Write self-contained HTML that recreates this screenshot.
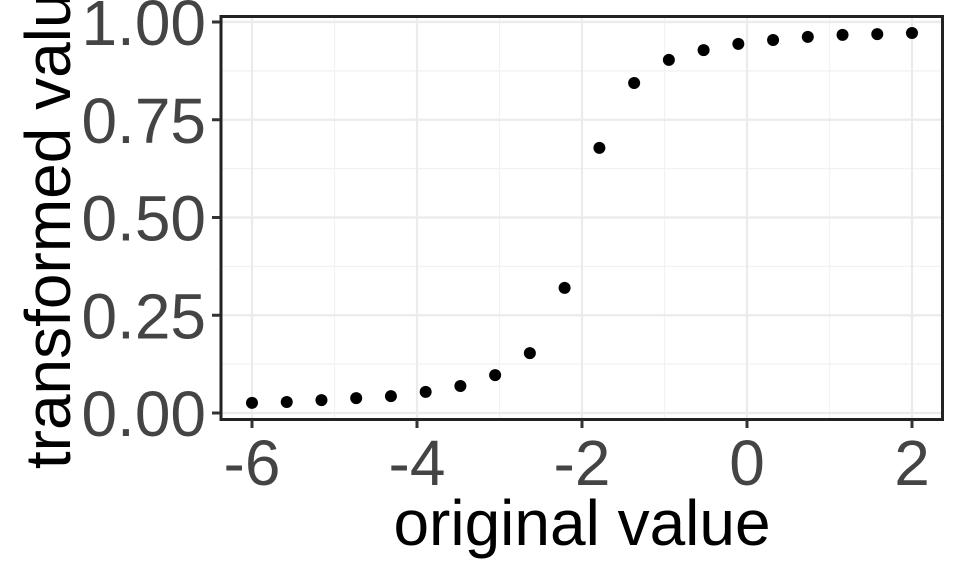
<!DOCTYPE html>
<html><head><meta charset="utf-8"><style>
body{margin:0;background:#fff;overflow:hidden}
svg{display:block;font-family:"Liberation Sans",sans-serif}
</style></head><body>
<svg width="960" height="576">
<g id="grid"></g>
<g id="pts"></g>
<rect x="221" y="16.5" width="721.5" height="403" fill="none" stroke="#222" stroke-width="3"/>
<g id="axes"></g>
<text x="582" y="545" font-size="64" text-anchor="middle" fill="#000">original value</text>
<text transform="translate(70,213) rotate(-90)" font-size="64" text-anchor="middle" fill="#000">transformed value</text>
</svg>
<script>
const xVals=[-6,-5.579,-5.158,-4.737,-4.316,-3.895,-3.474,-3.053,-2.632,-2.211,-1.789,-1.368,-0.947,-0.526,-0.105,0.316,0.737,1.158,1.579,2];
const yVals=[0.026,0.028,0.033,0.038,0.043,0.054,0.069,0.097,0.153,0.32,0.678,0.844,0.903,0.928,0.944,0.954,0.962,0.967,0.969,0.972];
const xTicks=[-6,-4,-2,0,2];
const yTicks=[0,0.25,0.5,0.75,1];
const yTickLabels=["0.00","0.25","0.50","0.75","1.00"];
const NS="http://www.w3.org/2000/svg";
const sx=v=>252+(v+6)*82.5;
const sy=v=>413-v*391;
function mk(t,a,p){const e=document.createElementNS(NS,t);for(const k in a)e.setAttribute(k,a[k]);document.getElementById(p).appendChild(e);return e;}
for(let i=0;i<xTicks.length-1;i++){const m=(xTicks[i]+xTicks[i+1])/2;
const l=mk('line',{x1:sx(m),x2:sx(m),y1:17,y2:419,stroke:'#f2f2f2','stroke-width':1.2},'grid');

}
for(let i=0;i<yTicks.length-1;i++){const m=(yTicks[i]+yTicks[i+1])/2;
const l=mk('line',{x1:222,x2:942,y1:sy(m),y2:sy(m),stroke:'#f2f2f2','stroke-width':1.2},'grid');

}
xTicks.forEach(v=>{const l=mk('line',{x1:sx(v),x2:sx(v),y1:17,y2:419,stroke:'#ebebeb','stroke-width':2.2},'grid');


const t=mk('line',{x1:sx(v),x2:sx(v),y1:420,y2:428,stroke:'#333','stroke-width':3},'axes');


const tx=mk('text',{x:sx(v),y:485,'font-size':64,'text-anchor':'middle',fill:'#444'},'axes');tx.textContent=v<0?'-'+(-v):v;

});
yTicks.forEach((v,i)=>{const l=mk('line',{x1:222,x2:942,y1:sy(v),y2:sy(v),stroke:'#ebebeb','stroke-width':2.2},'grid');


const t=mk('line',{x1:212,x2:220,y1:sy(v),y2:sy(v),stroke:'#333','stroke-width':3},'axes');


const tx=mk('text',{x:206,y:sy(v)+23,'font-size':64,'text-anchor':'end',fill:'#444'},'axes');tx.textContent=yTickLabels[i];

});
xVals.forEach((x,i)=>{const c=mk('circle',{cx:sx(x),cy:sy(yVals[i]),r:6,fill:'#000'},'pts');

});
</script>
</body></html>
